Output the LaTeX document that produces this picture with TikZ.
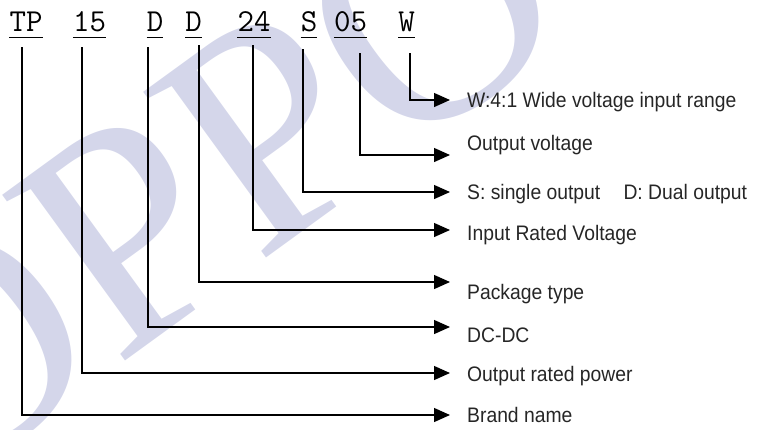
\documentclass[tikz,border=0pt]{standalone}
\usepackage{fontspec}
\usepackage{tikz}
\usetikzlibrary{arrows.meta}
\newfontfamily\labelfont{Liberation Sans}
\newfontfamily\logofont{Liberation Serif}
\definecolor{wmark}{RGB}{212,214,234}

\begin{document}
\begin{tikzpicture}[x=1pt,y=-1pt]
	\tikzstyle{code} = [anchor=base, inner sep=0pt, font=\ttfamily\fontsize{32}{32}\selectfont]
	\tikzstyle{desc} = [anchor=base west, inner sep=0pt, xscale=.92, text=black!85, font=\labelfont\fontsize{21}{21}\selectfont]
	\tikzstyle{uline} = [line width=1.5pt]
	\tikzstyle{arrow} = [line width=1.3pt, -{Triangle[length=16pt,width=14pt]}]

	\useasboundingbox (0,0) rectangle (759,429);
	% watermark
	\begin{scope}
		\clip (0,0) rectangle (759,429);
		\node (logo) at (-68,501) [anchor=base west, rotate=36, inner sep=0pt, text=wmark, font=\logofont\fontsize{315}{315}\selectfont] {OPPO};
	\end{scope}

	\node (TP) at (26,31.7) [code] {TP};
	\node (pow) at (89.5,31.7) [code] {15};
	\node (dc) at (155,31.7) [code] {D};
	\node (pkg) at (193.5,31.7) [code] {D};
	\node (vin) at (254,31.7) [code] {24};
	\node (sd) at (309,31.7) [code] {S};
	\node (vout) at (350.5,31.7) [code] {05};
	\node (wide) at (406.5,31.7) [code] {W};

	\draw [uline] ([yshift=-6pt]TP.base west) -- ([yshift=-6pt]TP.base east);
	\draw [uline] ([yshift=-6pt]pow.base west) -- ([yshift=-6pt]pow.base east);
	\draw [uline] ([yshift=-6pt]dc.base west) -- ([yshift=-6pt]dc.base east);
	\draw [uline] ([yshift=-6pt]pkg.base west) -- ([yshift=-6pt]pkg.base east);
	\draw [uline] ([yshift=-6pt]vin.base west) -- ([yshift=-6pt]vin.base east);
	\draw [uline] ([yshift=-6pt]sd.base west) -- ([yshift=-6pt]sd.base east);
	\draw [uline] ([yshift=-6pt]vout.base west) -- ([yshift=-6pt]vout.base east);
	\draw [uline] ([yshift=-6pt]wide.base west) -- ([yshift=-6pt]wide.base east);

	\node (range) at (467,107.5) [desc] {W:4:1 Wide voltage input range};
	\node (voltage) at (467,150.5) [desc] {Output voltage};
	\node (single) at (467,199) [desc] {S: single output\hspace{1.2em}D: Dual output};
	\node (input) at (467,240) [desc] {Input Rated Voltage};
	\node (package) at (467,299.5) [desc] {Package type};
	\node (dcdc) at (467,342) [desc] {DC-DC};
	\node (power) at (467,381) [desc] {Output rated power};
	\node (brand) at (467,422) [desc] {Brand name};

	\draw [arrow] ([xshift=-4pt,yshift=-15.3pt]TP.base) |- ([xshift=-17pt,yshift=7pt]brand.base west);
	\draw [arrow] ([xshift=-7.5pt,yshift=-15.3pt]pow.base) |- ([xshift=-17pt,yshift=8pt]power.base west);
	\draw [arrow] ([xshift=-7pt,yshift=-15.3pt]dc.base) |- ([xshift=-17pt,yshift=15pt]dcdc.base west);
	\draw [arrow] ([xshift=5.5pt,yshift=-13.3pt]pkg.base) |- ([xshift=-17pt,yshift=17.5pt]package.base west);
	\draw [arrow] ([xshift=-1pt,yshift=-13.3pt]vin.base) |- ([xshift=-17pt,yshift=10pt]input.base west);
	\draw [arrow] ([xshift=-6pt,yshift=-17.3pt]sd.base) |- ([xshift=-17pt,yshift=7pt]single.base west);
	\draw [arrow] ([xshift=9.5pt,yshift=-21.3pt]vout.base) |- ([xshift=-17pt,yshift=-4.5pt]voltage.base west);
	\draw [arrow] ([xshift=3.5pt,yshift=-21.3pt]wide.base) |- ([xshift=-17pt,yshift=7.5pt]range.base west);

	%\draw [dashed] (TP) -- (wide);
\end{tikzpicture}
\end{document}
